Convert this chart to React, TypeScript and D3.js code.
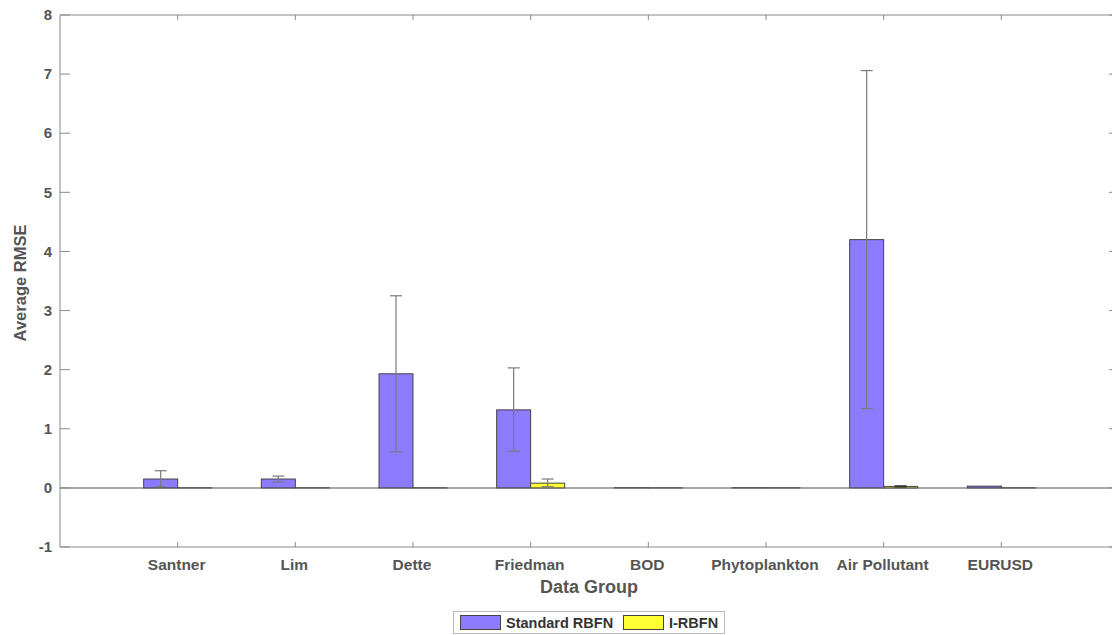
import * as d3 from "d3";

const categories = ["Santner", "Lim", "Dette", "Friedman", "BOD", "Phytoplankton", "Air Pollutant", "EURUSD"];
const seriesNames = ["Standard RBFN", "I-RBFN"];
const standardMean = [0.15, 0.15, 1.93, 1.32, 0.002, 0.002, 4.2, 0.03];
const standardLow = [0.02, 0.1, 0.61, 0.62, 0.002, 0.002, 1.34, 0.03];
const standardHigh = [0.29, 0.2, 3.25, 2.03, 0.002, 0.002, 7.06, 0.03];
const improvedMean = [0.001, 0.001, 0.001, 0.08, 0.001, 0.001, 0.025, 0.001];
const improvedLow = [0.001, 0.001, 0.001, 0.02, 0.001, 0.001, 0.015, 0.001];
const improvedHigh = [0.001, 0.001, 0.001, 0.15, 0.001, 0.001, 0.035, 0.001];
const yTicks = [-1, 0, 1, 2, 3, 4, 5, 6, 7, 8];
const colors = ["#8c7bff", "#ffff33"];

const width = 1112;
const height = 635;
const left = 60;
const right = 1119;
const top = 15;
const bottom = 547;
const barW = 34;
const axisColor = "#8a8a8a";
const textColor = "#555";
const font = "'Liberation Sans', Arial, sans-serif";

export default function App() {
  const x = d3.scaleLinear().domain([0, 9]).range([left, right]);
  const y = d3.scaleLinear().domain([-1, 8]).range([bottom, top]);

  const series = [
    { mean: standardMean, low: standardLow, high: standardHigh, offset: -barW / 2 },
    { mean: improvedMean, low: improvedLow, high: improvedHigh, offset: barW / 2 },
  ];

  return (
    <svg
      width={width}
      height={height}
      style={{ position: "absolute", left: 0, top: 0, background: "#fff" }}
      fontFamily={font}
    >
      {/* axes box */}
      <line x1={left} x2={right} y1={top} y2={top} stroke={axisColor} />
      <line x1={left} x2={right} y1={bottom} y2={bottom} stroke={axisColor} />
      <line x1={left} x2={left} y1={top} y2={bottom} stroke={axisColor} />
      <line x1={right} x2={right} y1={top} y2={bottom} stroke={axisColor} />

      {yTicks.map((t) => (
        <g key={t}>
          <line x1={left} x2={left + 10} y1={y(t)} y2={y(t)} stroke={axisColor} />
          <line x1={right - 10} x2={right} y1={y(t)} y2={y(t)} stroke={axisColor} />
          <text
            x={left - 8}
            y={y(t)}
            dy="0.35em"
            textAnchor="end"
            fontSize={15}
            fontWeight="bold"
            fill={textColor}
          >
            {t}
          </text>
        </g>
      ))}

      {categories.map((c, i) => (
        <g key={c}>
          <line x1={x(i + 1)} x2={x(i + 1)} y1={bottom} y2={bottom - 5} stroke={axisColor} />
          <line x1={x(i + 1)} x2={x(i + 1)} y1={top} y2={top + 5} stroke={axisColor} />
          <text
            x={x(i + 1) - 1}
            y={bottom + 23}
            textAnchor="middle"
            fontSize={15.5}
            fontWeight="bold"
            fill={textColor}
          >
            {c}
          </text>
        </g>
      ))}

      {/* baseline */}
      <line x1={left} x2={right} y1={y(0)} y2={y(0)} stroke={axisColor} strokeWidth={1.5} />

      {series.map((s, si) =>
        categories.map((c, i) => {
          const cx = x(i + 1) + s.offset;
          const y0 = y(0);
          const y1 = y(s.mean[i]);
          return (
            <rect
              key={`${si}-${c}`}
              x={cx - barW / 2}
              y={Math.min(y0, y1)}
              width={barW}
              height={Math.abs(y0 - y1)}
              fill={colors[si]}
              stroke="#444"
              strokeWidth={1}
            />
          );
        })
      )}

      {series.map((s, si) =>
        categories.map((c, i) => {
          const cx = x(i + 1) + s.offset;
          if (s.high[i] - s.low[i] < 0.005) return null;
          return (
            <g key={`e${si}-${c}`} stroke={si === 1 && i === 6 ? "#333" : "#7a7a7a"} strokeWidth={1.2}>
              <line x1={cx} x2={cx} y1={y(s.low[i])} y2={y(s.high[i])} />
              <line x1={cx - 6} x2={cx + 6} y1={y(s.low[i])} y2={y(s.low[i])} />
              <line x1={cx - 6} x2={cx + 6} y1={y(s.high[i])} y2={y(s.high[i])} />
            </g>
          );
        })
      )}

      <text x={589} y={bottom + 46} textAnchor="middle" fontSize={18} fontWeight="bold" fill={textColor}>
        Data Group
      </text>
      <text
        transform={`translate(26,${(top + bottom) / 2 + 2}) rotate(-90)`}
        textAnchor="middle"
        fontSize={16.5}
        fontWeight="bold"
        fill={textColor}
      >
        Average RMSE
      </text>

      {/* legend */}
      <g>
        <rect x={453.5} y={611.5} width={271} height={22} fill="#fff" stroke="#bbb" />
        <rect x={460.5} y={615.5} width={40} height={14} fill={colors[0]} stroke="#444" />
        <text x={506} y={628} fontSize={14.5} fontWeight="bold" fill="#333">
          {seriesNames[0]}
        </text>
        <rect x={623.5} y={615.5} width={40} height={14} fill={colors[1]} stroke="#444" />
        <text x={669} y={628} fontSize={14.5} fontWeight="bold" fill="#333">
          {seriesNames[1]}
        </text>
      </g>
    </svg>
  );
}
